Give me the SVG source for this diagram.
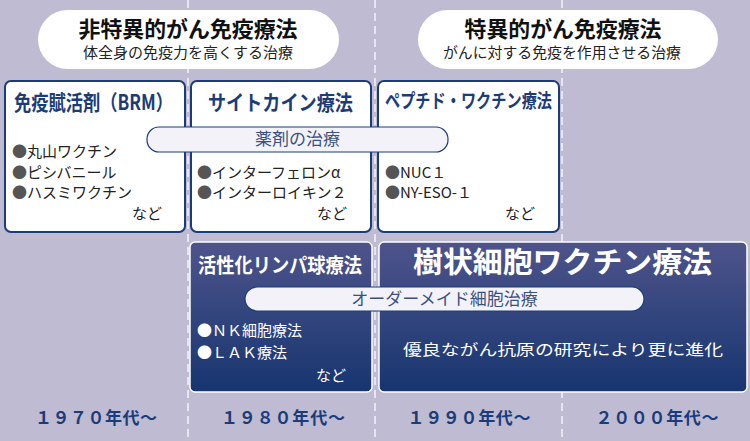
<svg xmlns="http://www.w3.org/2000/svg" width="750" height="441" viewBox="0 0 750 441">
<defs>
<linearGradient id="dk" x1="0" y1="0" x2="0" y2="1">
<stop offset="0" stop-color="#4e548b"/>
<stop offset="1" stop-color="#17356f"/>
</linearGradient>
<style>
text{font-family:"Noto Sans CJK JP","Noto Sans",sans-serif}
.bg{fill:#bebbd2}
.div{stroke:#e6e5f0;stroke-width:2;stroke-dasharray:8 5;fill:none}
.pill{fill:#ffffff}
.ptitle{font-size:21.5px;font-weight:700;fill:#111111;text-anchor:middle}
.psub{font-size:14.5px;fill:#222222;text-anchor:middle}
.wbox{fill:#ffffff;stroke:#1c3c79;stroke-width:2}
.dbox{fill:url(#dk);stroke:#ffffff;stroke-width:1.5}
.btitle{font-weight:700;fill:#1c3c79}
.wtitle{font-weight:700;fill:#ffffff}
.item{font-size:15px;fill:#222222}
.dot{fill:#555555}
.witem{font-size:15px;fill:#ffffff}
.band{fill:#f3f2f8;stroke:#1c3c79;stroke-width:1.2}
.bandt{font-size:17px;fill:#3a5283;text-anchor:middle}
.era{font-size:17px;font-weight:700;fill:#1c3c79;text-anchor:middle}
</style>
</defs>
<rect class="bg" x="0" y="0" width="750" height="441"/>
<g id="dividers">
<line class="div" x1="188" y1="0" x2="188" y2="441"/>
<line class="div" x1="375" y1="0" x2="375" y2="441"/>
<line class="div" x1="562" y1="0" x2="562" y2="441"/>
</g>
<g id="header-nonspecific">
<rect class="pill" x="38" y="10" width="301" height="59" rx="29.5"/>
<text class="ptitle" x="188" y="37" textLength="219" lengthAdjust="spacingAndGlyphs">非特異的がん免疫療法</text>
<text class="psub" x="188" y="58" textLength="210" lengthAdjust="spacingAndGlyphs">体全身の免疫力を高くする治療</text>
</g>
<g id="header-specific">
<rect class="pill" x="418" y="10" width="300" height="59" rx="29.5"/>
<text class="ptitle" x="563" y="37" textLength="197" lengthAdjust="spacingAndGlyphs">特異的がん免疫療法</text>
<text class="psub" x="562" y="58" textLength="238" lengthAdjust="spacingAndGlyphs">がんに対する免疫を作用させる治療</text>
</g>
<g id="node-brm">
<rect class="wbox" x="5" y="81" width="180" height="151" rx="6"/>
<text class="btitle" x="14" y="110" font-size="21" textLength="159" lengthAdjust="spacingAndGlyphs">免疫賦活剤（BRM）</text>
<text class="item" x="12" y="157"><tspan class="dot">●</tspan>丸山ワクチン</text>
<text class="item" x="12" y="178"><tspan class="dot">●</tspan>ピシバニール</text>
<text class="item" x="12" y="198"><tspan class="dot">●</tspan>ハスミワクチン</text>
<text class="item" x="132" y="219">など</text>
</g>
<g id="node-cytokine">
<rect class="wbox" x="191" y="81" width="180" height="151" rx="6"/>
<text class="btitle" x="208" y="110" font-size="21" textLength="145" lengthAdjust="spacingAndGlyphs">サイトカイン療法</text>
<text class="item" x="197" y="178"><tspan class="dot">●</tspan>インターフェロンα</text>
<text class="item" x="197" y="198"><tspan class="dot">●</tspan>インターロイキン２</text>
<text class="item" x="317" y="219">など</text>
</g>
<g id="node-peptide">
<rect class="wbox" x="378" y="81" width="181" height="151" rx="6"/>
<text class="btitle" x="385" y="108" font-size="19" textLength="167" lengthAdjust="spacingAndGlyphs">ペプチド・ワクチン療法</text>
<text class="item" x="385" y="178"><tspan class="dot">●</tspan>NUC１</text>
<text class="item" x="385" y="198"><tspan class="dot">●</tspan>NY-ESO-１</text>
<text class="item" x="505" y="219">など</text>
</g>
<g id="band-drug">
<rect class="band" x="147" y="127" width="301" height="25" rx="12"/>
<text class="bandt" x="297.5" y="145">薬剤の治療</text>
</g>
<g id="node-lymph">
<rect class="dbox" x="190" y="242" width="182" height="150" rx="5"/>
<text class="wtitle" x="198" y="273" font-size="20" textLength="164" lengthAdjust="spacingAndGlyphs">活性化リンパ球療法</text>
<text class="witem" x="197" y="336">●ＮＫ細胞療法</text>
<text class="witem" x="197" y="358">●ＬＡＫ療法</text>
<text class="witem" x="316" y="381">など</text>
</g>
<g id="node-dendritic">
<rect class="dbox" x="379" y="242" width="368" height="150" rx="5"/>
<text class="wtitle" x="413" y="273" font-size="29" textLength="299" lengthAdjust="spacingAndGlyphs">樹状細胞ワクチン療法</text>
<text class="witem" x="403" y="355" font-size="18.5" textLength="320" lengthAdjust="spacingAndGlyphs">優良ながん抗原の研究により更に進化</text>
</g>
<g id="band-custom">
<rect class="band" x="245" y="287" width="399" height="24" rx="12"/>
<text class="bandt" x="444.5" y="305">オーダーメイド細胞治療</text>
</g>
<g id="eras">
<text class="era" x="96" y="424" textLength="122" lengthAdjust="spacing">１９７０年代～</text>
<text class="era" x="283" y="424" textLength="124" lengthAdjust="spacing">１９８０年代～</text>
<text class="era" x="469" y="424" textLength="123" lengthAdjust="spacing">１９９０年代～</text>
<text class="era" x="657" y="424" textLength="123" lengthAdjust="spacing">２０００年代～</text>
</g>
</svg>
